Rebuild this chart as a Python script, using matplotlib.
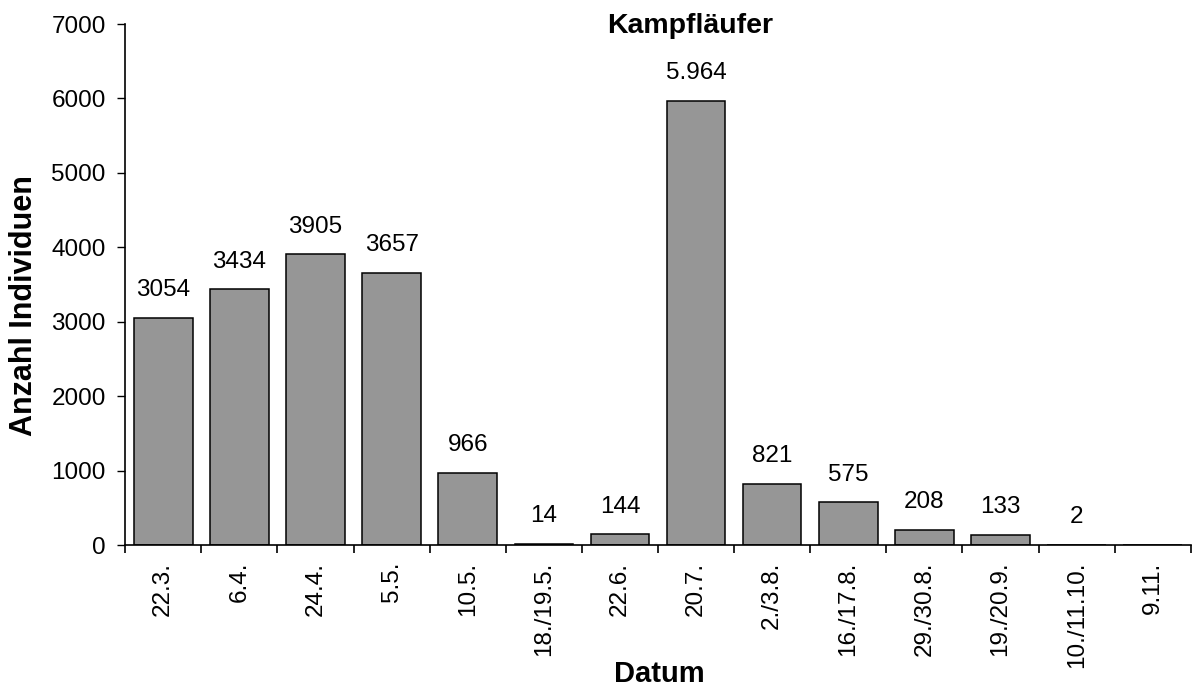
import matplotlib
matplotlib.use('Agg')
import matplotlib.pyplot as plt
import numpy as np

# Kampfläufer Zählungen
dates = ['22.3.', '6.4.', '24.4.', '5.5.', '10.5.', '18./19.5.', '22.6.', '20.7.',
         '2./3.8.', '16./17.8.', '29./30.8.', '19./20.9.', '10./11.10.', '9.11.']
counts = [3054, 3434, 3905, 3657, 966, 14, 144, 5964, 821, 575, 208, 133, 2, 0]
value_labels = ['3054', '3434', '3905', '3657', '966', '14', '144', '5.964',
                '821', '575', '208', '133', '2', '']

plt.rcParams['font.family'] = ['Liberation Sans', 'DejaVu Sans']

fig = plt.figure(figsize=(11.92, 6.86), dpi=100)
ax = fig.add_axes([0.105, 0.2055, 0.894, 0.7595])

x = np.arange(len(dates))
bars = ax.bar(x, counts, width=0.77, color='#969696', edgecolor='black', linewidth=1.1)

# Werte über den Balken
for bar, lbl in zip(bars, value_labels):
    if lbl:
        ax.annotate(lbl, (bar.get_x() + bar.get_width() / 2, bar.get_height()),
                    xytext=(0, 12), textcoords='offset points',
                    ha='center', va='bottom', fontsize=17.5)

ax.set_xlim(-0.5, len(dates) - 0.5)
ax.set_ylim(0, 7000)
ax.set_yticks(range(0, 7001, 1000))
ax.tick_params(axis='y', labelsize=17.5, length=6, width=1, pad=8)

ax.set_xticks(x)
ax.set_xticklabels(dates, rotation=90, fontsize=17.5)
ax.tick_params(axis='x', length=0, pad=12)
ax.set_xticks(np.arange(len(dates) + 1) - 0.5, minor=True)
ax.tick_params(axis='x', which='minor', length=6, width=1.2, direction='out')

for s in ['top', 'right']:
    ax.spines[s].set_visible(False)
for s in ['left', 'bottom']:
    ax.spines[s].set_linewidth(1.2)

fig.text(0.579, 0.962, 'Kampfläufer', ha='center', va='center',
         fontsize=20.5, fontweight='bold')
fig.text(0.553, 0.018, 'Datum', ha='center', va='center',
         fontsize=21, fontweight='bold')
fig.text(0.02, 0.555, 'Anzahl Individuen', ha='center', va='center',
         rotation=90, fontsize=22, fontweight='bold')

fig.savefig('out.png', dpi=100)
plt.close(fig)
